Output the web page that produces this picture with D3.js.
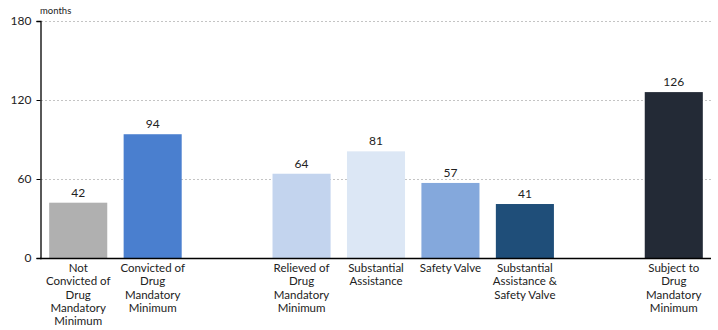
<!DOCTYPE html>
<html><head><meta charset="utf-8">
<script src="https://cdn.jsdelivr.net/npm/d3@7"></script>
<style>body{margin:0;background:#fff}svg{display:block}text{font-family:Lato,"Open Sans",sans-serif;fill:#222}</style>
</head><body><svg id="c" width="718" height="330"></svg>
<script>
const slots = ["s0","s1","gap1","s3","s4","s5","s6","gap2","s8"];
const categories = [
  ["Not","Convicted of","Drug","Mandatory","Minimum"],
  ["Convicted of","Drug","Mandatory","Minimum"],
  ["Relieved of","Drug","Mandatory","Minimum"],
  ["Substantial","Assistance"],
  ["Safety Valve"],
  ["Substantial","Assistance &","Safety Valve"],
  ["Subject to","Drug","Mandatory","Minimum"]
];
const barSlots = ["s0","s1","s3","s4","s5","s6","s8"];
const values = [42, 94, 64, 81, 57, 41, 126];
const colors = ["#b0b0b0","#4a7fcf","#c3d4ee","#dce7f5","#84a8dc","#1f4e79","#232a36"];
const yTicks = [0, 60, 120, 180];
const yUnit = "months";

const svg = d3.select("#c");
const x = d3.scaleBand().domain(slots).range([41, 711]).paddingInner(0.22).paddingOuter(0.11);
const y = d3.scaleLinear().domain([0,180]).range([258, 21]);

// gridlines
svg.append("g").selectAll("line").data(yTicks.filter(d=>d>0)).join("line")
  .attr("x1",41).attr("x2",711).attr("y1",d=>y(d)+0.5).attr("y2",d=>y(d)+0.5)
  .attr("stroke","#c4c4c4").attr("stroke-dasharray","2,2").attr("stroke-width",1);

// bars
const data = values.map((v,i)=>({v, slot:barSlots[i], c:colors[i], lab:categories[i]}));
svg.append("g").selectAll("rect").data(data).join("rect")
  .attr("x",d=>x(d.slot)).attr("width",x.bandwidth())
  .attr("y",d=>y(d.v)).attr("height",d=>y(0)-y(d.v))
  .attr("fill",d=>d.c);

// value labels
svg.append("g").selectAll("text").data(data).join("text")
  .attr("x",d=>x(d.slot)+x.bandwidth()/2).attr("y",d=>y(d.v)-6)
  .attr("text-anchor","middle").attr("font-size",12).text(d=>d.v);

// y axis
const ya = svg.append("g").attr("transform","translate(40.5,0)")
  .call(d3.axisLeft(y).tickValues(yTicks).tickSize(4).tickPadding(5));
ya.select(".domain").attr("stroke","#000").attr("stroke-width",1.3);
ya.selectAll(".tick line").attr("stroke","#000");
ya.selectAll(".tick text").attr("font-size",12).attr("fill","#222").style("font-family","Lato,'Open Sans',sans-serif");

// x axis line
svg.append("line").attr("x1",40).attr("x2",711).attr("y1",258.5).attr("y2",258.5).attr("stroke","#000").attr("stroke-width",1.3);

// category labels
const cl = svg.append("g").selectAll("text").data(data).join("text")
  .attr("text-anchor","middle").attr("font-size",11.5).attr("fill","#333");
cl.each(function(d){
  const t = d3.select(this);
  d.lab.forEach((line,i)=>{
    t.append("tspan").attr("x",x(d.slot)+x.bandwidth()/2).attr("y",272+i*13.3).text(line);
  });
});

svg.append("text").attr("x",40).attr("y",14).attr("font-size",9.5).attr("fill","#333").text(yUnit);
</script></body></html>
